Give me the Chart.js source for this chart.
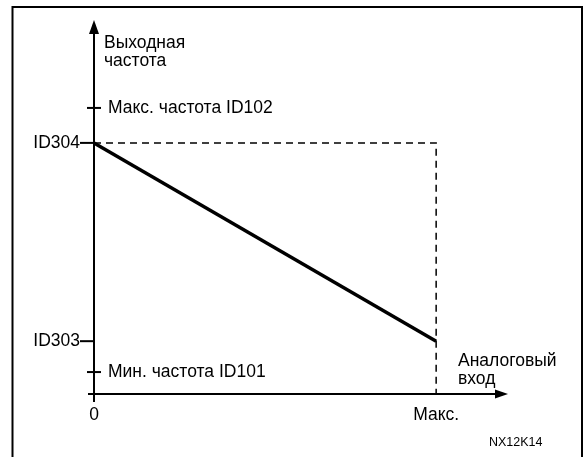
<!DOCTYPE html>
<html>
<head>
<meta charset="utf-8">
<script src="https://cdn.jsdelivr.net/npm/chart.js@4"></script>
<style>
  html, body { margin: 0; padding: 0; background: #fff; }
  canvas { display: block; }
</style>
</head>
<body>
<canvas id="chart" width="586" height="457"></canvas>
<script>
// x: analog input, 0 .. Макс (=100); y: output frequency (axis 0 .. 100)
const inputTicks = [0, 100];
const inputTickLabels = ['0', 'Макс.'];
const lineInputs = [0, 100];
const lineOutputs = [67.5, 14.2];          // ID304 -> ID303
const freqTicks = [76.9, 67.5, 14.2, 5.9];
const freqLabels = ['Макс. частота ID102', 'ID304', 'ID303', 'Мин. частота ID101'];
const freqLabelSide = ['right', 'left', 'left', 'right'];

const FONT = '"Liberation Sans", Arial, sans-serif';

const diagramPlugin = {
    id: 'diagram',
    beforeDatasetsDraw(chart) {
        const ctx = chart.ctx;
        const xs = chart.scales.x;
        const ys = chart.scales.y;
        const x0 = xs.getPixelForValue(0);
        const y0 = ys.getPixelForValue(0);
        const xEnd = xs.right;
        const yTop = ys.top;

        ctx.save();
        // frame
        ctx.strokeStyle = '#000';
        ctx.lineWidth = 2;
        ctx.beginPath();
        ctx.moveTo(12.5, 460);
        ctx.lineTo(12.5, 7);
        ctx.lineTo(582, 7);
        ctx.lineTo(582, 460);
        ctx.stroke();

        // axes
        ctx.lineWidth = 2;
        ctx.beginPath();
        ctx.moveTo(x0, y0 + 8);
        ctx.lineTo(x0, yTop + 10);
        ctx.moveTo(x0 - 6, y0);
        ctx.lineTo(xEnd - 10, y0);
        ctx.stroke();
        // arrows
        ctx.fillStyle = '#000';
        ctx.beginPath();
        ctx.moveTo(x0, yTop - 2);
        ctx.lineTo(x0 - 5, yTop + 12);
        ctx.lineTo(x0 + 5, yTop + 12);
        ctx.closePath();
        ctx.fill();
        ctx.beginPath();
        ctx.moveTo(xEnd, y0);
        ctx.lineTo(xEnd - 13, y0 - 4.5);
        ctx.lineTo(xEnd - 13, y0 + 4.5);
        ctx.closePath();
        ctx.fill();

        // y ticks and labels
        ctx.font = '17.5px ' + FONT;
        ctx.textBaseline = 'middle';
        freqTicks.forEach((v, i) => {
            const py = ys.getPixelForValue(v);
            ctx.beginPath();
            if (freqLabelSide[i] === 'right') {
                ctx.moveTo(x0 - 7, py);
                ctx.lineTo(x0 + 7, py);
            } else {
                ctx.moveTo(x0 - 14, py);
                ctx.lineTo(x0, py);
            }
            ctx.lineWidth = 2;
            ctx.stroke();
            if (freqLabelSide[i] === 'right') {
                ctx.textAlign = 'left';
                ctx.fillText(freqLabels[i], x0 + 14, py);
            } else {
                ctx.textAlign = 'right';
                ctx.fillText(freqLabels[i], x0 - 14, py);
            }
        });

        // x tick labels
        ctx.textAlign = 'center';
        inputTicks.forEach((v, i) => {
            ctx.fillText(inputTickLabels[i], xs.getPixelForValue(v), y0 + 21);
        });

        // axis titles
        ctx.textAlign = 'left';
        ctx.fillText('Выходная', x0 + 10, 43);
        ctx.fillText('частота', x0 + 10, 61);
        ctx.fillText('Аналоговый', 458, 361);
        ctx.fillText('вход', 458, 379);

        ctx.font = '12.5px ' + FONT;
        ctx.fillText('NX12K14', 489, 443);
        ctx.restore();
    }
};

new Chart(document.getElementById('chart'), {
    type: 'scatter',
    data: {
        datasets: [
            {
                // dashed guide: ID304 level to Макс, then down to axis
                data: [
                    { x: lineInputs[0], y: lineOutputs[0] },
                    { x: lineInputs[1], y: lineOutputs[0] },
                    { x: lineInputs[1], y: 0 }
                ],
                showLine: true,
                borderColor: '#000',
                borderWidth: 1.5,
                borderDash: [7, 5],
                pointRadius: 0
            },
            {
                data: lineInputs.map((x, i) => ({ x: x, y: lineOutputs[i] })),
                showLine: true,
                borderColor: '#000',
                borderWidth: 3.5,
                pointRadius: 0
            }
        ]
    },
    options: {
        responsive: false,
        animation: false,
        layout: { padding: { left: 94, right: 78, top: 22, bottom: 63 } },
        plugins: { legend: { display: false }, tooltip: { enabled: false } },
        scales: {
            x: { type: 'linear', min: 0, max: 121, display: false },
            y: { type: 'linear', min: 0, max: 100, display: false }
        }
    },
    plugins: [diagramPlugin]
});
</script>
</body>
</html>
